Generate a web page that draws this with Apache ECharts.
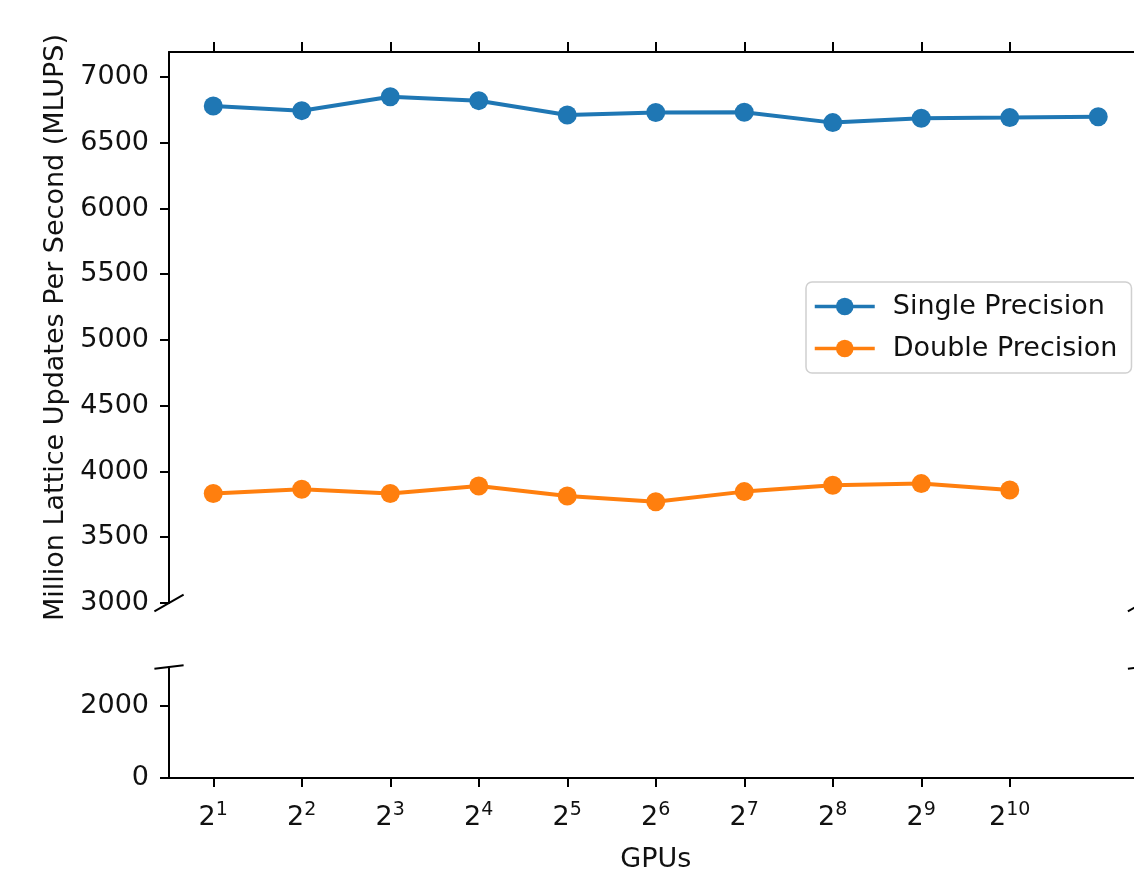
<!DOCTYPE html>
<html>
<head>
<meta charset="utf-8">
<script src="https://cdn.jsdelivr.net/npm/echarts@6/dist/echarts.min.js"></script>
<style>html,body{margin:0;padding:0;background:#fff}#c{width:1134px;height:873px}</style>
</head>
<body>
<div id="c"></div>
<script>
// ---- data ----
const gpuExponents = [1, 2, 3, 4, 5, 6, 7, 8, 9, 10, 11];          // GPUs = 2^n
const singlePrecision = [6780, 6744, 6850, 6820, 6711, 6730, 6732, 6653, 6686, 6691, 6698];
const doublePrecision = [3832, 3865, 3832, 3890, 3814, 3770, 3847, 3895, 3908, 3859];
const xTickExponents = [1, 2, 3, 4, 5, 6, 7, 8, 9, 10];
const bottomYTicks = [0, 2000];
const seriesNames = ['Single Precision', 'Double Precision'];

// ---- layout ----
const FONT = 'DejaVu Sans';
const TXT = '#111';
const FS = 27;
const L = 169, W = 973.5;
const topTop = 52, topH = 551;
const botTop = 667, botH = 111;
const AXW = 2;

const chart = echarts.init(document.getElementById('c'), null, {renderer: 'canvas'});

function pairs(ys) { return ys.map((v, i) => [gpuExponents[i], v]); }
const plainNum = v => String(v);

// break marks (decoration), matplotlib style d = 0.015 of axes size
const d = 0.015;
function seg(x0, y0, x1, y1) {
  return {type: 'line', silent: true, z: 100,
    shape: {x1: x0, y1: y0, x2: x1, y2: y1},
    style: {stroke: '#000', lineWidth: AXW}};
}
const dxp = d * W, dyTop = d * topH, dyBot = d * botH;
const topBottomY = topTop + topH, botTopY = botTop;
const graphics = [
  seg(L - dxp, topBottomY + dyTop, L + dxp, topBottomY - dyTop),
  seg(L + W - dxp, topBottomY + dyTop, L + W + dxp, topBottomY - dyTop),
  seg(L - dxp, botTopY + dyBot, L + dxp, botTopY - dyBot),
  seg(L + W - dxp, botTopY + dyBot, L + W + dxp, botTopY - dyBot)
];

const axisLineStyle = {color: '#000', width: AXW};
const tickStyle = {color: '#000', width: AXW};

const option = {
  animation: false,
  backgroundColor: '#fff',
  textStyle: {fontFamily: FONT},
  grid: [
    {left: L, width: W, top: topTop, height: topH, containLabel: false, outerBoundsMode: 'none'},
    {left: L, width: W, top: botTop, height: botH, containLabel: false, outerBoundsMode: 'none'}
  ],
  xAxis: [
    {
      type: 'value', gridIndex: 0, position: 'top', min: 0.5, max: 11.5,
      axisLine: {show: true, onZero: false, lineStyle: axisLineStyle},
      axisTick: {show: true, inside: false, length: 10, lineStyle: tickStyle, customValues: xTickExponents},
      axisLabel: {show: false},
      splitLine: {show: false}
    },
    {
      type: 'value', gridIndex: 1, position: 'bottom', min: 0.5, max: 11.5,
      axisLine: {show: true, onZero: false, lineStyle: axisLineStyle},
      axisTick: {show: true, inside: false, length: 9, lineStyle: tickStyle, customValues: xTickExponents},
      axisLabel: {
        show: true, customValues: xTickExponents, margin: 23,
        formatter: v => '{b|2}{s|' + v + '}',
        rich: {
          b: {fontSize: FS, fontFamily: FONT, color: TXT, verticalAlign: 'bottom', lineHeight: 30},
          s: {fontSize: 19, fontFamily: FONT, color: TXT, verticalAlign: 'top', lineHeight: 30}
        }
      },
      splitLine: {show: false},
      name: 'GPUs', nameLocation: 'middle', nameGap: 68,
      nameTextStyle: {fontSize: FS, fontFamily: FONT, color: TXT}
    }
  ],
  yAxis: [
    {
      type: 'value', gridIndex: 0, min: 3000, max: 7190, interval: 500,
      axisLine: {show: true, onZero: false, lineStyle: axisLineStyle},
      axisTick: {show: true, inside: false, length: 9, lineStyle: tickStyle},
      axisLabel: {show: true, margin: 20, fontSize: FS, fontFamily: FONT, color: TXT,
        showMaxLabel: false, formatter: plainNum},
      splitLine: {show: false},
      name: 'Million Lattice Updates Per Second (MLUPS)', nameLocation: 'middle', nameGap: 84,
      nameRotate: 90,
      nameTextStyle: {fontSize: FS, fontFamily: FONT, color: TXT}
    },
    {
      type: 'value', gridIndex: 1, min: 0, max: 3070,
      axisLine: {show: true, onZero: false, lineStyle: axisLineStyle},
      axisTick: {show: true, inside: false, length: 9, lineStyle: tickStyle, customValues: bottomYTicks},
      axisLabel: {show: true, margin: 20, fontSize: FS, fontFamily: FONT, color: TXT,
        customValues: bottomYTicks, formatter: plainNum},
      splitLine: {show: false},
    }
  ],
  legend: {
    show: true, orient: 'vertical', left: 806, top: 282,
    data: seriesNames,
    itemWidth: 60, itemHeight: 22, itemGap: 15,
    padding: [11, 14, 11, 7],
    backgroundColor: 'rgba(255,255,255,0.8)',
    borderColor: '#d0d0d0', borderWidth: 1.5, borderRadius: 6,
    lineStyle: {width: 3.5},
    textStyle: {fontSize: FS, fontFamily: FONT, color: TXT, padding: [0, 0, 0, 13]}
  },
  series: [
    {
      name: seriesNames[0], type: 'line', xAxisIndex: 0, yAxisIndex: 0,
      data: pairs(singlePrecision), symbol: 'circle', symbolSize: 19,
      lineStyle: {color: '#1f77b4', width: 4}, itemStyle: {color: '#1f77b4'},
      z: 3
    },
    {
      name: seriesNames[1], type: 'line', xAxisIndex: 0, yAxisIndex: 0,
      data: pairs(doublePrecision), symbol: 'circle', symbolSize: 19,
      lineStyle: {color: '#ff7f0e', width: 4}, itemStyle: {color: '#ff7f0e'},
      z: 3
    },
    {
      type: 'line', xAxisIndex: 1, yAxisIndex: 1, data: [], silent: true
    }
  ],
  graphic: graphics
};
chart.setOption(option);
</script>
</body>
</html>
